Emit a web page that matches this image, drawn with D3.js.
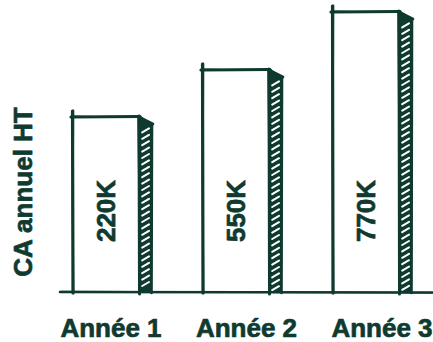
<!DOCTYPE html>
<html><head><meta charset="utf-8">
<script src="https://cdn.jsdelivr.net/npm/d3@7"></script>
<style>html,body{margin:0;padding:0;background:#fff}svg{display:block}</style>
</head><body>
<svg id="c" width="433" height="342"></svg>
<script>
const categories = ["Année 1", "Année 2", "Année 3"];
const barLevels = [175, 222, 280];          // drawn heights (illustrative, not to scale)
const valueLabels = ["220K", "550K", "770K"];
const yTitle = "CA annuel HT";

const ink = "#0f3a30";
const svg = d3.select("#c");
const base = 292;
const FONT = "'Liberation Sans', Arial, Helvetica, sans-serif";

const x = d3.scaleBand().domain(categories).range([66, 456]).padding(0);
const y = d3.scaleLinear().domain([0, 280]).range([base, 12]);
const labelX = d3.scalePoint().domain(categories).range([111, 382]);

const frontW = 66, sideW = 13, slant = 7;

const defs = svg.append("defs");

function roughLine(g, x1, y1, x2, y2, w, k) {
  const offs = [[0, 0], [0.8 * k, -0.6 * k]];
  offs.forEach((o, i) => {
    g.append("path")
      .attr("d", `M${x1 + o[0]},${y1 + o[1]} Q${(x1 + x2) / 2 + o[1]},${(y1 + y2) / 2 + o[0]} ${x2 - o[1] * 0.5},${y2 + o[0] * 0.5}`)
      .attr("fill", "none").attr("stroke", ink)
      .attr("stroke-width", i === 0 ? w : w * 0.6)
      .attr("stroke-linecap", "round");
  });
}

function boldText(sel) {
  return sel.attr("font-family", FONT).attr("font-weight", "bold").attr("font-size", 26)
    .attr("fill", ink).attr("stroke", ink).attr("stroke-width", 0.7).attr("stroke-linejoin", "round");
}

categories.forEach((c, i) => {
  const g = svg.append("g");
  const x0 = x(c) + 7, xr = x0 + frontW, xs = xr + sideW;
  const top = y(barLevels[i]);
  // side face
  const sidePath = `M${xr},${top} L${xs},${top + slant} L${xs},${base} L${xr},${base} Z`;
  defs.append("clipPath").attr("id", "side" + i).append("path").attr("d", sidePath);
  g.append("path").attr("d", sidePath).attr("fill", ink);
  const hatch = g.append("g").attr("clip-path", `url(#side${i})`);
  for (let yy = top + slant + 6; yy < base - 2; yy += 6.4) {
    hatch.append("line")
      .attr("x1", xr + 3.2).attr("y1", yy + 2.4)
      .attr("x2", xs - 3).attr("y2", yy - 1.6)
      .attr("stroke", "#fff").attr("stroke-width", 2).attr("stroke-linecap", "round");
  }
  // front face
  g.append("rect").attr("x", x0).attr("y", top).attr("width", frontW).attr("height", base - top).attr("fill", "#fff");
  roughLine(g, x0 - 0.5, top - 6, x0, base + 1, 3.2, 1);          // left
  roughLine(g, x0 - 2, top, xr + 1, top - 0.5, 3.2, 1);           // top
  roughLine(g, xr, top - 1, xr + 0.5, base + 2, 3, -1);           // front right
  roughLine(g, xr, top, xs + 1, top + slant, 2.6, 1);             // side top
  roughLine(g, xs, top + slant, xs - 0.5, base + 1, 2.6, -1);     // side right
  // value label
  boldText(g.append("text"))
    .attr("transform", `translate(${x0 + frontW / 2 + 9},211) rotate(-90)`)
    .attr("text-anchor", "middle")
    .text(valueLabels[i]);
  // category label
  boldText(svg.append("text"))
    .attr("x", labelX(c)).attr("y", 337)
    .attr("text-anchor", "middle")
    .text(c);
});

// baseline
roughLine(svg.append("g"), 60, 292, 433, 292.5, 2.6, 0.8);

// y title
boldText(svg.append("text"))
  .attr("transform", "translate(32,192) rotate(-90)")
  .attr("text-anchor", "middle")
  .text(yTitle);
</script>
</body></html>
